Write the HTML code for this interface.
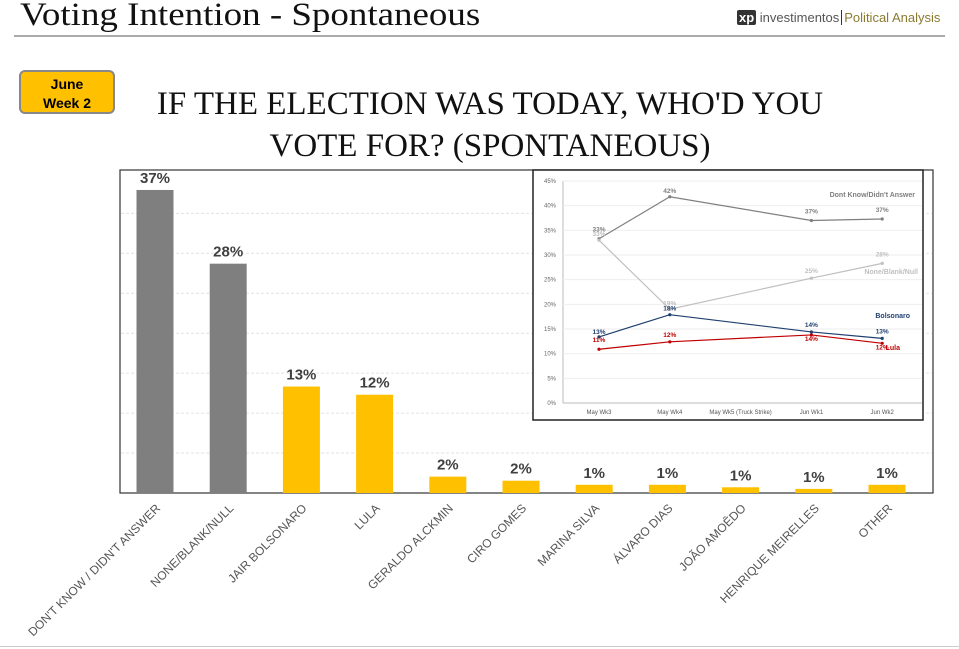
<!DOCTYPE html>
<html><head><meta charset="utf-8"><style>
body{margin:0;width:959px;height:649px;background:#fff;overflow:hidden;position:relative;font-family:"Liberation Sans",sans-serif}
.t{position:absolute}
</style></head><body>
<div class="t" style="left:20px;top:-3px;font-family:'Liberation Serif',serif;font-size:33px;color:#111;transform:scaleX(1.12);transform-origin:left;white-space:nowrap">Voting Intention - Spontaneous</div>
<div style="position:absolute;left:14px;top:35px;width:931px;height:2px;background:#aaa"></div>
<div class="t" style="left:737px;top:10px;font-size:13px;color:#555;white-space:nowrap"><span style="background:#333;color:#fff;font-weight:bold;padding:0 2px;border-radius:2px">xp</span> investimentos<span style="border-left:1px solid #333;margin-left:2px;padding-left:2px;color:#8a7a30">Political Analysis</span></div>
<div class="t" style="left:19px;top:70px;width:96px;height:44px;background:#ffc000;border:2px solid #888;border-radius:6px;text-align:center;font-weight:bold;font-size:14px;line-height:19px;padding-top:3px;box-sizing:border-box">June<br>Week 2</div>
<div class="t" style="left:90px;top:83px;width:800px;text-align:center;font-family:'Liberation Serif',serif;font-size:33px;line-height:42px;color:#111">IF THE ELECTION WAS TODAY, WHO'D YOU<br>VOTE FOR? (SPONTANEOUS)</div>
<svg id="bars" width="959" height="649" style="position:absolute;left:0;top:0"></svg>
<svg id="inset" width="959" height="649" style="position:absolute;left:0;top:0"></svg>
<script>
const categories=["DON'T KNOW / DIDN'T ANSWER","NONE/BLANK/NULL","JAIR BOLSONARO","LULA","GERALDO ALCKMIN","CIRO GOMES","MARINA SILVA","ÁLVARO DIAS","JOÃO AMOÊDO","HENRIQUE MEIRELLES","OTHER"];
const values=[37,28,13,12,2,1.5,1,1,0.7,0.5,1];
const valueLabels=["37%","28%","13%","12%","2%","2%","1%","1%","1%","1%","1%"];
const weeks=["May Wk3","May Wk4","May Wk5 (Truck Strike)","Jun Wk1","Jun Wk2"];
const dk=[33.3,41.8,null,37,37.3];
const none=[33,19,null,25.3,28.3];
const bolso=[13.4,17.9,null,14.4,13.1];
const lula=[10.9,12.4,null,13.8,12.1];
const dkLbl=["33%","42%",null,"37%","37%"];
const noneLbl=["33%","19%",null,"25%","28%"];
const bolsoLbl=["13%","18%",null,"14%","13%"];
const lulaLbl=["11%","12%",null,"14%","12%"];
const yTicks=[0,5,10,15,20,25,30,35,40,45];
const NS="http://www.w3.org/2000/svg";
function mk(p,tag,a,txt){const e=document.createElementNS(NS,tag);for(const k in a)e.setAttribute(k,a[k]);if(txt!=null)e.textContent=txt;p.appendChild(e);return e;}
const B=document.getElementById('bars');
const base=493,ppv=8.19,x0=155,step=73.2,bw=37;
const by=v=>base-v*ppv, bx=i=>x0+i*step;
let fr=mk(B,'rect',{x:120,y:170,width:813,height:323,fill:'none',stroke:'#333','stroke-width':1.2});

for(let g=5;g<=35;g+=5){let l=mk(B,'line',{x1:121,x2:932,y1:by(g*40/41),y2:by(g*40/41),stroke:'#e2e2e2','stroke-dasharray':'3,2'});
}
categories.forEach((c,i)=>{
 let r=mk(B,'rect',{x:bx(i)-bw/2,y:by(values[i]),width:bw,height:values[i]*ppv,fill:i<2?'#7f7f7f':'#ffc000'});
 
 let t=mk(B,'text',{x:bx(i),y:by(values[i])-7,'text-anchor':'middle','font-size':15,'font-weight':'bold',fill:'#404040'},valueLabels[i]);
 
 let lx=bx(i)+6,ly=509;
 let c2=mk(B,'text',{x:lx,y:ly,'text-anchor':'end','font-size':12,fill:'#555',transform:`rotate(-45 ${lx} ${ly})`},c);
 
});
const S=document.getElementById('inset');
let bg=mk(S,'rect',{x:533,y:170,width:390,height:250,fill:'#fff',stroke:'#222','stroke-width':1.5});

const iy=v=>403-v*(222/45), ix=i=>599+i*70.8;
let ax=mk(S,'line',{x1:563,x2:922,y1:403,y2:403,stroke:'#bbb'});
let ay=mk(S,'line',{x1:563,x2:563,y1:181,y2:403,stroke:'#bbb'});
yTicks.forEach(v=>{
 if(v>0){let g=mk(S,'line',{x1:563,x2:922,y1:iy(v),y2:iy(v),stroke:'#eee'});}
 let t=mk(S,'text',{x:556,y:iy(v)+2,'text-anchor':'end','font-size':6,fill:'#666'},v+'%');
});
weeks.forEach((w,i)=>{let t=mk(S,'text',{x:ix(i),y:414,'text-anchor':'middle','font-size':6,fill:'#555'},w);});
function series(d,lbl,col,name,dy){
 const pts=d.map((v,i)=>v==null?null:[ix(i),iy(v)]).filter(p=>p);
 let p=mk(S,'polyline',{points:pts.map(q=>q.join(',')).join(' '),fill:'none',stroke:col,'stroke-width':1.2});
 
 d.forEach((v,i)=>{if(v==null)return;
  let c=mk(S,'circle',{cx:ix(i),cy:iy(v),r:1.6,fill:col});
  let t=mk(S,'text',{x:ix(i),y:iy(v)+dy[i],'text-anchor':'middle','font-size':6.5,'font-weight':'bold',fill:col},lbl[i]);});
}
series(dk,dkLbl,'#7f7f7f','dk',[-7,-4,0,-7,-7]);
series(none,noneLbl,'#bfbfbf','none',[-4,-4,0,-5,-7]);
series(bolso,bolsoLbl,'#1f3f6e','bolsonaro',[-3,-4,0,-5,-5]);
series(lula,lulaLbl,'#c00000','lula',[-7,-5,0,6,6]);
[["Dont Know/Didn't Answer",915,197,'#7f7f7f'],["None/Blank/Null",918,274,'#bfbfbf'],["Bolsonaro",910,318,'#1f3f6e'],["Lula",900,350,'#c00000']].forEach(a=>{
 let t=mk(S,'text',{x:a[1],y:a[2],'text-anchor':'end','font-size':7,'font-weight':'bold',fill:a[3]},a[0]);});
</script>
<div style="position:absolute;left:0;top:646px;width:959px;height:1px;background:#ccc"></div>
</body></html>
